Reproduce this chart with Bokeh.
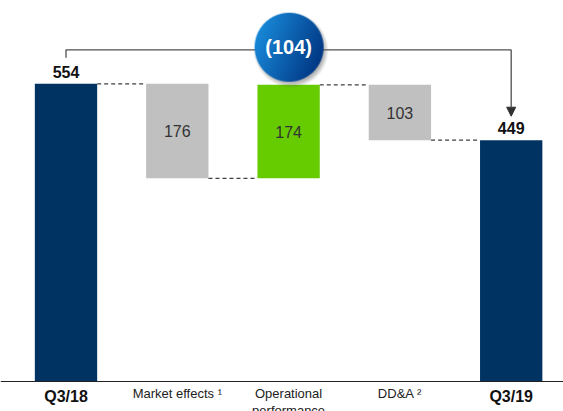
import numpy as np
from bokeh.plotting import figure
from bokeh.models import Span, Arrow, NormalHead
from bokeh.core.properties import value
from bokeh.embed import file_html
from bokeh.resources import INLINE

# ---------------- data ----------------
categories = ["Q3/18", "Market effects \u00b9", "Operational\nperformance", "DD&A \u00b2", "Q3/19"]
values = [554, -176, 174, -103, 449]
kinds = ["total", "delta", "delta", "delta", "total"]
bar_labels = ["554", "176", "174", "103", "449"]
change_label = "(104)"

# ---------------- styles ----------------
NAVY = "#003361"
GREY = "#c0c0c0"
GREEN = "#66cc00"
FONT = value("Liberation Sans")

W, H = 563, 411
PX_X = 111.3          # pixels per category step
X0_PX = 65.5          # pixel position of first category center
PX_Y = 0.5374         # pixels per unit
BASE_PX = 381         # pixel position (from top) of zero line

x_start = -X0_PX / PX_X
x_end = x_start + W / PX_X
y_end = BASE_PX / PX_Y
y_start = -(H - BASE_PX) / PX_Y

def dy(px):
    return px / PX_Y

def dx(px):
    return px / PX_X

# waterfall geometry from values
idx = list(range(len(categories)))
bottoms, tops, colors, levels = [], [], [], []
running = 0
for v, k in zip(values, kinds):
    if k == "total":
        b, t = 0, v
        running = v
        colors.append(NAVY)
    else:
        if v < 0:
            b, t = running + v, running
            colors.append(GREY)
        else:
            b, t = running, running + v
            colors.append(GREEN)
        running += v
    bottoms.append(b)
    tops.append(t)
    levels.append(running)

p = figure(width=W, height=H, x_range=(x_start, x_end), y_range=(y_start, y_end),
           output_backend="svg", toolbar_location=None, min_border=0)
p.axis.visible = False
p.grid.visible = False
p.outline_line_color = None
p.background_fill_color = "white"
p.border_fill_color = "white"

BW = 0.56
p.vbar(x=idx, width=BW, bottom=bottoms, top=tops, fill_color=colors, line_color=None)

# dashed connectors
for i in range(len(idx) - 1):
    p.line([idx[i] + BW / 2, idx[i + 1] - BW / 2], [levels[i], levels[i]],
           line_color="#404040", line_width=1.3, line_dash="4 3")

# zero line
p.add_layout(Span(location=0, dimension="width", line_color="#222222", line_width=1.2))

# total labels
tot_i = [i for i, k in enumerate(kinds) if k == "total"]
p.text(x=[idx[i] for i in tot_i], y=[tops[i] + dy(12) for i in tot_i],
       text=[bar_labels[i] for i in tot_i], text_font=FONT, text_font_style="bold",
       text_font_size="16px", text_align="center", text_baseline="middle", text_color="#111111")

# delta labels
del_i = [i for i, k in enumerate(kinds) if k == "delta"]
p.text(x=[idx[i] for i in del_i], y=[(tops[i] + bottoms[i]) / 2 for i in del_i],
       text=[bar_labels[i] for i in del_i], text_font=FONT,
       text_font_size="16px", text_align="center", text_baseline="middle", text_color="#333333")

# category labels
p.text(x=[idx[i] for i in tot_i], y=[-dy(15)] * len(tot_i),
       text=[categories[i] for i in tot_i], text_font=FONT, text_font_style="bold",
       text_font_size="16px", text_align="center", text_baseline="middle", text_color="#111111")
p.text(x=[idx[i] for i in del_i], y=[-dy(4)] * len(del_i),
       text=[categories[i] for i in del_i], text_font=FONT,
       text_font_size="13px", text_align="center", text_baseline="top", text_color="#222222",
       text_line_height=1.15)

# bracket with arrow
y_br = tops[0] + dy(34)
p.line([idx[0], idx[0], idx[-1]], [tops[0] + dy(26), y_br, y_br], line_color="#505050", line_width=1.3)
p.add_layout(Arrow(end=NormalHead(size=9, fill_color="#303030", line_color="#303030"),
                   x_start=idx[-1], y_start=y_br, x_end=idx[-1], y_end=tops[-1] + dy(24),
                   line_color="#505050", line_width=1.3))

# gradient badge
N = 84
c = 40.0
R = 34.5
yy, xx = np.mgrid[0:N, 0:N].astype(float)
d = np.sqrt((xx - c) ** 2 + (yy - c) ** 2)
ac = np.clip(R + 0.5 - d, 0, 1)
ds = np.sqrt((xx - c - 2) ** 2 + (yy - c - 3) ** 2)
ash = np.clip((R + 3 - ds) / 5, 0, 1) * 0.45
t = np.clip(((xx - c) * 0.85 + (yy - c) * 0.35) / (2 * R) + 0.5, 0, 1)
light = np.array([25, 140, 220], float)
dark = np.array([0, 52, 128], float)
crgb = light[None, None, :] * (1 - t[..., None]) + dark[None, None, :] * t[..., None]
srgb = np.array([90, 90, 90], float)
oa = ac + ash * (1 - ac)
orgb = (crgb * ac[..., None] + srgb[None, None, :] * (ash * (1 - ac))[..., None]) / np.maximum(oa, 1e-6)[..., None]
img = np.zeros((N, N), dtype=np.uint32)
view = img.view(dtype=np.uint8).reshape((N, N, 4))
view[..., 0] = orgb[..., 0].astype(np.uint8)
view[..., 1] = orgb[..., 1].astype(np.uint8)
view[..., 2] = orgb[..., 2].astype(np.uint8)
view[..., 3] = (oa * 255).astype(np.uint8)
img = img[::-1].copy()

cx = 2
cy = y_br + dy(3)
p.image_rgba(image=[img], x=cx - dx(c), y=cy - dy(N - c), dw=dx(N), dh=dy(N))
p.text(x=[cx], y=[cy], text=[change_label], text_font=FONT, text_font_style="bold",
       text_font_size="20px", text_align="center", text_baseline="middle", text_color="white")

open("out.html", "w").write(file_html(p, INLINE))
